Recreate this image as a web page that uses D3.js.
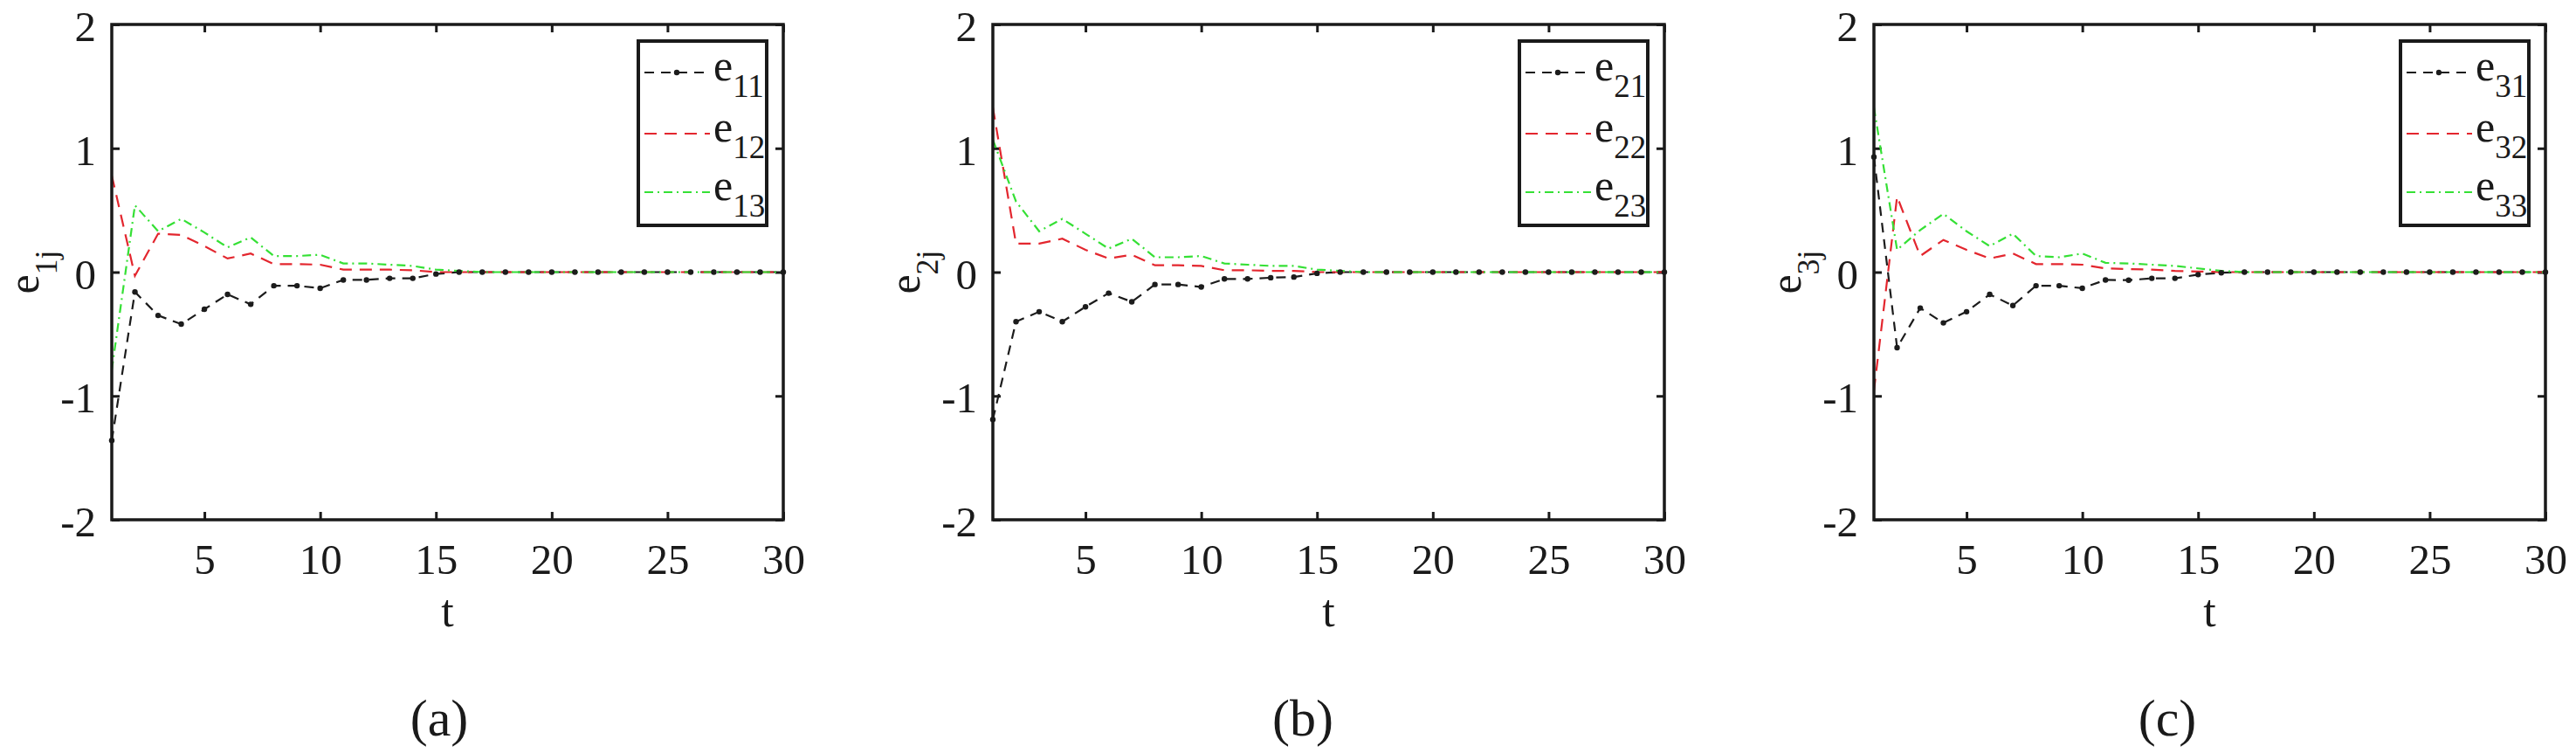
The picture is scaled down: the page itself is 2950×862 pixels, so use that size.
<!DOCTYPE html>
<html>
<head>
<meta charset="utf-8">
<script src="https://cdn.jsdelivr.net/npm/d3@7"></script>
<style>
  body { margin: 0; background: #fff; }
  text { font-family: "Liberation Serif", "Times New Roman", serif; fill: #1a1a1a; }
</style>
</head>
<body>
<svg id="chart" width="2950" height="862"></svg>
<script>
// time steps
const t = [1,2,3,4,5,6,7,8,9,10,11,12,13,14,15,16,17,18,19,20,21,22,23,24,25,26,27,28,29,30];

// panel (a)
const e11 = [-1.36,-0.16,-0.35,-0.42,-0.30,-0.18,-0.26,-0.11,-0.11,-0.13,-0.063,-0.063,-0.05,-0.05,-0.015,0,0,0,0,0,0,0,0,0,0,0,0,0,0,0];
const e12 = [0.78,-0.03,0.31,0.30,0.21,0.11,0.15,0.065,0.065,0.06,0.02,0.02,0.02,0.015,0,0,0,0,0,0,0,0,0,0,0,0,0,0,0,0];
const e13 = [-0.79,0.54,0.33,0.43,0.32,0.20,0.28,0.13,0.13,0.14,0.07,0.07,0.06,0.05,0.02,0.01,0,0,0,0,0,0,0,0,0,0,0,0,0,0];

// panel (b)
const e21 = [-1.19,-0.40,-0.32,-0.40,-0.28,-0.17,-0.24,-0.10,-0.10,-0.12,-0.055,-0.055,-0.045,-0.04,-0.01,0,0,0,0,0,0,0,0,0,0,0,0,0,0,0];
const e22 = [1.33,0.23,0.23,0.27,0.18,0.11,0.14,0.055,0.055,0.05,0.015,0.015,0.01,0.01,0,0,0,0,0,0,0,0,0,0,0,0,0,0,0,0];
const e23 = [1.07,0.57,0.33,0.43,0.31,0.19,0.27,0.12,0.12,0.13,0.07,0.06,0.05,0.05,0.02,0.01,0,0,0,0,0,0,0,0,0,0,0,0,0,0];

// panel (c)
const e31 = [0.93,-0.61,-0.29,-0.41,-0.32,-0.18,-0.27,-0.11,-0.11,-0.13,-0.063,-0.065,-0.05,-0.05,-0.02,-0.005,0,0,0,0,0,0,0,0,0,0,0,0,0,0];
const e32 = [-0.96,0.61,0.13,0.26,0.18,0.11,0.15,0.065,0.065,0.06,0.03,0.025,0.02,0.01,0.005,0,0,0,0,0,0,0,0,0,0,0,0,0,0,0];
const e33 = [1.33,0.18,0.34,0.47,0.33,0.21,0.31,0.13,0.12,0.15,0.075,0.07,0.06,0.05,0.03,0.01,0,0,0,0,0,0,0,0,0,0,0,0,0,0];

const xTicks = [5,10,15,20,25,30];
const yTicks = [-2,-1,0,1,2];
const legendNames = [["11","12","13"],["21","22","23"],["31","32","33"]];
const yLabelSubs = ["1j","2j","3j"];
const captions = ["(a)","(b)","(c)"];

const seriesByPanel = [[e11,e12,e13],[e21,e22,e23],[e31,e32,e33]];

// line styles: black dashed with dots, red dashed, green dash-dot
const styles = [
  {color:"#1c1c1c", dash:"11,8", dots:true},
  {color:"#e3262e", dash:"14,9", dots:false},
  {color:"#35e035", dash:"10,5,2,5", dots:false}
];

const svg = d3.select("#chart");
const W = 769, H = 567, top0 = 28;
const lefts = [128, 1137, 2146];
const capX = [503, 1492, 2482];

// plain hyphen for negatives, like the original figure
const fmt = d => String(d);

lefts.forEach((left, p) => {
  const g = svg.append("g").attr("transform", `translate(${left},${top0})`);

  const x = d3.scaleLinear().domain([1,30]).range([0,W]);
  const y = d3.scaleLinear().domain([-2,2]).range([H,0]);

  // axes, ticks pointing inward
  g.append("g").attr("transform", `translate(0,${H})`)
    .call(d3.axisBottom(x).tickValues(xTicks).tickFormat(fmt)
      .tickSizeInner(-9).tickSizeOuter(0).tickPadding(27));
  const leftAx = g.append("g")
    .call(d3.axisLeft(y).tickValues(yTicks).tickFormat(fmt)
      .tickSizeInner(-9).tickSizeOuter(0).tickPadding(18));
  g.append("g")
    .call(d3.axisTop(x).tickValues(xTicks).tickSizeInner(-9).tickSizeOuter(0).tickFormat(""));
  g.append("g").attr("transform", `translate(${W},0)`)
    .call(d3.axisRight(y).tickValues(yTicks).tickSizeInner(-9).tickSizeOuter(0).tickFormat(""));

  g.selectAll(".domain").remove();
  g.selectAll(".tick line").attr("stroke", "#1a1a1a").attr("stroke-width", 3);
  g.selectAll(".tick text").attr("font-size", 49).attr("font-family", "Liberation Serif").attr("fill", "#1a1a1a");
  leftAx.selectAll(".tick text").attr("dy", "0.38em");

  // series
  const line = d3.line().x((d, i) => x(t[i])).y(d => y(d));
  seriesByPanel[p].forEach((s, k) => {
    g.append("path").datum(s)
      .attr("d", line)
      .attr("fill", "none")
      .attr("stroke", styles[k].color)
      .attr("stroke-width", 2.2)
      .attr("stroke-dasharray", styles[k].dash);
  });
  // dot markers for first series drawn on top
  g.selectAll(".dot").data(seriesByPanel[p][0]).enter()
    .append("circle")
    .attr("class", "dot")
    .attr("cx", (d, i) => x(t[i]))
    .attr("cy", d => y(d))
    .attr("r", 3.2)
    .attr("fill", styles[0].color);

  // box
  g.append("rect").attr("width", W).attr("height", H)
    .attr("fill", "none").attr("stroke", "#1a1a1a").attr("stroke-width", 3.5);

  // legend
  const lg = g.append("g").attr("transform", `translate(603,19)`);
  lg.append("rect").attr("width", 147).attr("height", 211)
    .attr("fill", "#fff").attr("stroke", "#1a1a1a").attr("stroke-width", 4);
  const rowY = [55, 125, 192];
  legendNames[p].forEach((nm, k) => {
    const ry = rowY[k] - 19;
    lg.append("line").attr("x1", 7).attr("x2", 82).attr("y1", ry).attr("y2", ry)
      .attr("stroke", styles[k].color).attr("stroke-width", 2.2)
      .attr("stroke-dasharray", styles[k].dash);
    if (styles[k].dots) {
      lg.append("circle").attr("cx", 44).attr("cy", ry).attr("r", 3.2).attr("fill", styles[k].color);
    }
    const tx = lg.append("text").attr("x", 86).attr("y", ry + 9).attr("font-size", 50);
    tx.append("tspan").text("e");
    tx.append("tspan").attr("font-size", 37).attr("dy", 19).text(nm);
  });

  // y label
  const yl = g.append("text")
    .attr("transform", `translate(-84,${H/2}) rotate(-90)`)
    .attr("text-anchor", "middle")
    .attr("font-size", 50);
  yl.append("tspan").text("e");
  yl.append("tspan").attr("font-size", 36).attr("dy", 21).text(yLabelSubs[p]);

  // x label
  g.append("text").attr("x", W/2).attr("y", 717 - top0)
    .attr("text-anchor", "middle").attr("font-size", 52).text("t");

  // caption
  svg.append("text").attr("x", capX[p]).attr("y", 842)
    .attr("text-anchor", "middle").attr("font-size", 60).text(captions[p]);
});
</script>
</body>
</html>
